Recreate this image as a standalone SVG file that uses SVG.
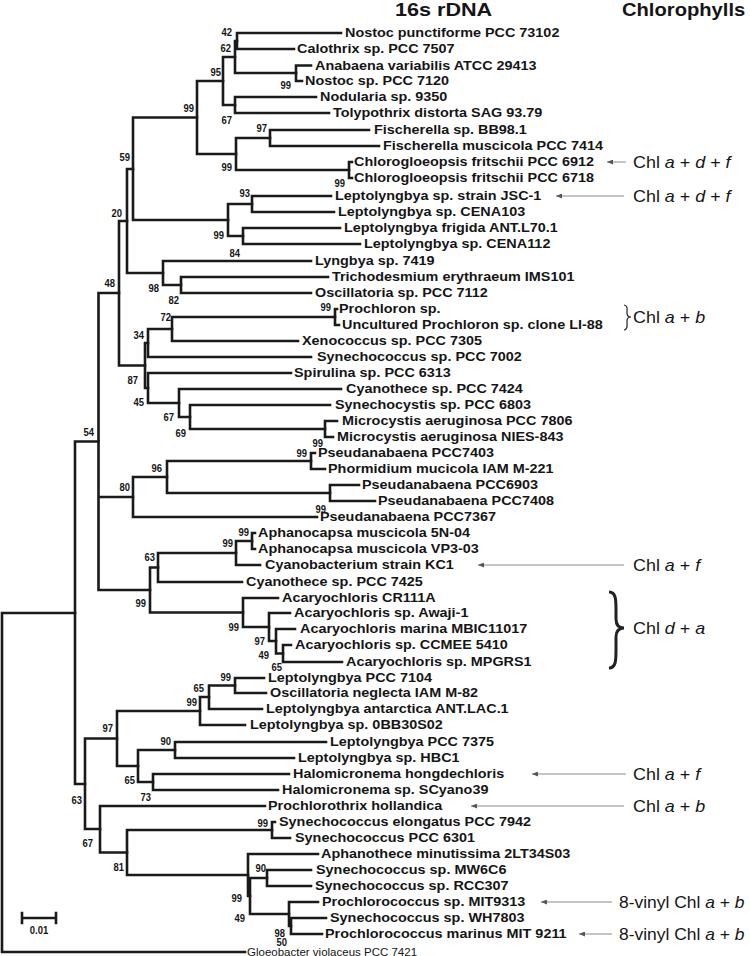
<svg xmlns="http://www.w3.org/2000/svg" width="750" height="956" viewBox="0 0 750 956">
<style>
.lf{font-family:"Liberation Sans",Arial,sans-serif;font-weight:bold;font-size:12px;fill:#151515}
.bs{font-family:"Liberation Sans",Arial,sans-serif;font-weight:bold;font-size:10.5px;fill:#151515;text-anchor:end}
.ch{font-family:"Liberation Sans",Arial,sans-serif;font-size:16px;fill:#151515}
.hd{font-family:"Liberation Sans",Arial,sans-serif;font-weight:bold;font-size:18px;fill:#151515}
.gl{font-family:"Liberation Sans",Arial,sans-serif;font-size:11.5px;fill:#151515}
.br{fill:none;stroke:#1a1a1a;stroke-width:2.6;stroke-linecap:square}
.ar{stroke:#8a8a8a;stroke-width:1;marker-end:url(#ah)}
.cb{fill:none;stroke:#222}
</style>
<defs>
<marker id="ah" viewBox="0 0 6 5" refX="6" refY="2.5" markerWidth="6" markerHeight="5" orient="auto" markerUnits="userSpaceOnUse"><path d="M0,0L6,2.5L0,5z" fill="#555"/></marker>
</defs>
<rect width="750" height="956" fill="#fff"/>
<g id="headers">
<text class="hd" transform="matrix(1.2 0 0 1 395 16)">16s rDNA</text>
<text class="hd" transform="matrix(1.12 0 0 1 622 16)">Chlorophylls</text>
</g>
<g id="connectors">
<path class="br" stroke-width="2.2" d="M2,613V952M2,613H75M2,952H245"/>
<path class="br" d="M75,441.5V784M75,441.5H98.5M75,784H85"/>
<path class="br" d="M98.5,293V590M98.5,293H119M98.5,497H133M98.5,590H150"/>
<path class="br" d="M119,221V365.5M119,221H127M119,365.5H145"/>
<path class="br" d="M127,169V273M127,169H133M127,273H163"/>
<path class="br" d="M133,117.5V220M133,117.5H197M133,220H228"/>
<path class="br" d="M197,81V154M197,81H223M197,154H236"/>
<path class="br" d="M223,57V105M223,57H235M223,105H235"/>
<path class="br" d="M235,41V73M235,41H237M235,73H296"/>
<path class="br" d="M237,33V49M237,33H341M237,49H294"/>
<path class="br" d="M296,65.5V81M296,65.5H311M296,81H302"/>
<path class="br" d="M235,97V113M235,97H316M235,113H329"/>
<path class="br" d="M236,138V170M236,138H270M236,170H349"/>
<path class="br" d="M270,130V146M270,130H369M270,146H379"/>
<path class="br" d="M349,162V178M349,162H352M349,178H352"/>
<path class="br" d="M228,204V236M228,204H252M228,236H243"/>
<path class="br" d="M252,196V212M252,196H331M252,212H334"/>
<path class="br" d="M243,228V244M243,228H340M243,244H360"/>
<path class="br" d="M163,261V285M163,261H311M163,285H181"/>
<path class="br" d="M181,277V293M181,277H328M181,293H311"/>
<path class="br" d="M145,343V388M145,343H148M145,388H148"/>
<path class="br" d="M148,329V357M148,329H172M148,357H311"/>
<path class="br" d="M172,317V341M172,317H335M172,341H298"/>
<path class="br" d="M335,309V325M335,309H337M335,325H339"/>
<path class="br" d="M148,373V403M148,373H291M148,403H179"/>
<path class="br" d="M179,389V417M179,389H341M179,417H190"/>
<path class="br" d="M190,405V429M190,405H330M190,429H325"/>
<path class="br" d="M325,421V437M325,421H337M325,437H333"/>
<path class="br" d="M133,477V517M133,477H167M133,517H317"/>
<path class="br" d="M167,461V493M167,461H311M167,493H330"/>
<path class="br" d="M311,453V469M311,453H315M311,469H325"/>
<path class="br" d="M330,485V501M330,485H359M330,501H375"/>
<path class="br" d="M150,567.5V612.5M150,567.5H158M150,612.5H243"/>
<path class="br" d="M158,553V582M158,553H236M158,582H242"/>
<path class="br" d="M236,541V565M236,541H252M236,565H260"/>
<path class="br" d="M252,533V549M252,533H255M252,549H255"/>
<path class="br" d="M243,598V627M243,598H278M243,627H269"/>
<path class="br" d="M269,613V641M269,613H290M269,641H276"/>
<path class="br" d="M276,629V653.5M276,629H295M276,653.5H283"/>
<path class="br" d="M283,645V662M283,645H291M283,662H342"/>
<path class="br" d="M85,738.5V829M85,738.5H117M85,829H100"/>
<path class="br" d="M117,711V766M117,711H200M117,766H138"/>
<path class="br" d="M200,697V725M200,697H209M200,725H245"/>
<path class="br" d="M209,685.5V709M209,685.5H235M209,709H262"/>
<path class="br" d="M235,678V693M235,678H264M235,693H266"/>
<path class="br" d="M138,750V782M138,750H175M138,782H153"/>
<path class="br" d="M175,742V758M175,742H326M175,758H294"/>
<path class="br" d="M153,774V790M153,774H289M153,790H278"/>
<path class="br" d="M100,806V852.5M100,806H265M100,852.5H127"/>
<path class="br" d="M127,830V875M127,830H272M127,875H248"/>
<path class="br" d="M272,822V838M272,822H275M272,838H290"/>
<path class="br" d="M248,854V896M248,854H318M248,896H250"/>
<path class="br" d="M250,878V914M250,878H267M250,914H289"/>
<path class="br" d="M267,870V886M267,870H311M267,886H311"/>
<path class="br" d="M289,902V926M289,902H318M289,926H291"/>
<path class="br" d="M291,918V934M291,918H326M291,934H322"/>
<line class="ar" x1="626" y1="162" x2="607" y2="162"/>
<line class="ar" x1="624" y1="196" x2="556" y2="196"/>
<line class="ar" x1="624" y1="565" x2="478" y2="565"/>
<line class="ar" x1="626" y1="774" x2="532" y2="774"/>
<line class="ar" x1="624" y1="806" x2="471" y2="806"/>
<line class="ar" x1="612" y1="902" x2="541" y2="902"/>
<line class="ar" x1="612" y1="934" x2="579" y2="934"/>
<path class="cb" stroke-width="1.2" d="M624,305C628,305 627,310 627,313C627,316 629,317 631,317C629,317 627,318 627,321C627,324 628,330 624,330"/>
<path class="cb" stroke-width="3" d="M609,592C616,592 616,600 616,610L616,619C616,625 619,628 624,628C619,628 616,631 616,637L616,650C616,660 616,668 609,668"/>
</g>
<g id="leaves">
<g id="leaf00"><text class="lf" transform="matrix(1.2 0 0 1 345 37.3)">Nostoc punctiforme PCC 73102</text></g>
<g id="leaf01"><text class="lf" transform="matrix(1.2 0 0 1 297 53.3)">Calothrix sp. PCC 7507</text></g>
<g id="leaf02"><text class="lf" transform="matrix(1.2 0 0 1 315 69.8)">Anabaena variabilis ATCC 29413</text></g>
<g id="leaf03"><text class="lf" transform="matrix(1.2 0 0 1 305 85.3)">Nostoc sp. PCC 7120</text></g>
<g id="leaf04"><text class="lf" transform="matrix(1.2 0 0 1 320 101.3)">Nodularia sp. 9350</text></g>
<g id="leaf05"><text class="lf" transform="matrix(1.2 0 0 1 333 117.3)">Tolypothrix distorta SAG 93.79</text></g>
<g id="leaf06"><text class="lf" transform="matrix(1.2 0 0 1 374 134.3)">Fischerella sp. BB98.1</text></g>
<g id="leaf07"><text class="lf" transform="matrix(1.2 0 0 1 383 150.3)">Fischerella muscicola PCC 7414</text></g>
<g id="leaf08"><text class="lf" transform="matrix(1.2 0 0 1 354 166.3)">Chlorogloeopsis fritschii PCC 6912</text></g>
<g id="leaf09"><text class="lf" transform="matrix(1.2 0 0 1 354 182.3)">Chlorogloeopsis fritschii PCC 6718</text></g>
<g id="leaf10"><text class="lf" transform="matrix(1.2 0 0 1 335 200.3)">Leptolyngbya sp. strain JSC-1</text></g>
<g id="leaf11"><text class="lf" transform="matrix(1.2 0 0 1 338 216.3)">Leptolyngbya sp. CENA103</text></g>
<g id="leaf12"><text class="lf" transform="matrix(1.2 0 0 1 344 232.3)">Leptolyngbya frigida ANT.L70.1</text></g>
<g id="leaf13"><text class="lf" transform="matrix(1.2 0 0 1 364 248.3)">Leptolyngbya sp. CENA112</text></g>
<g id="leaf14"><text class="lf" transform="matrix(1.2 0 0 1 315 265.3)">Lyngbya sp. 7419</text></g>
<g id="leaf15"><text class="lf" transform="matrix(1.2 0 0 1 332 281.3)">Trichodesmium erythraeum IMS101</text></g>
<g id="leaf16"><text class="lf" transform="matrix(1.2 0 0 1 315 297.3)">Oscillatoria sp. PCC 7112</text></g>
<g id="leaf17"><text class="lf" transform="matrix(1.2 0 0 1 339 313.3)">Prochloron sp.</text></g>
<g id="leaf18"><text class="lf" transform="matrix(1.2 0 0 1 342 329.3)">Uncultured Prochloron sp. clone LI-88</text></g>
<g id="leaf19"><text class="lf" transform="matrix(1.2 0 0 1 302 345.3)">Xenococcus sp. PCC 7305</text></g>
<g id="leaf20"><text class="lf" transform="matrix(1.2 0 0 1 317 361.3)">Synechococcus sp. PCC 7002</text></g>
<g id="leaf21"><text class="lf" transform="matrix(1.2 0 0 1 294 377.3)">Spirulina sp. PCC 6313</text></g>
<g id="leaf22"><text class="lf" transform="matrix(1.2 0 0 1 346 393.3)">Cyanothece sp. PCC 7424</text></g>
<g id="leaf23"><text class="lf" transform="matrix(1.2 0 0 1 335 409.3)">Synechocystis sp. PCC 6803</text></g>
<g id="leaf24"><text class="lf" transform="matrix(1.2 0 0 1 342 425.3)">Microcystis aeruginosa PCC 7806</text></g>
<g id="leaf25"><text class="lf" transform="matrix(1.2 0 0 1 337 441.3)">Microcystis aeruginosa NIES-843</text></g>
<g id="leaf26"><text class="lf" transform="matrix(1.2 0 0 1 318 457.3)">Pseudanabaena PCC7403</text></g>
<g id="leaf27"><text class="lf" transform="matrix(1.2 0 0 1 328 473.3)">Phormidium mucicola IAM M-221</text></g>
<g id="leaf28"><text class="lf" transform="matrix(1.2 0 0 1 362 489.3)">Pseudanabaena PCC6903</text></g>
<g id="leaf29"><text class="lf" transform="matrix(1.2 0 0 1 378 505.3)">Pseudanabaena PCC7408</text></g>
<g id="leaf30"><text class="lf" transform="matrix(1.2 0 0 1 320 521.3)">Pseudanabaena PCC7367</text></g>
<g id="leaf31"><text class="lf" transform="matrix(1.2 0 0 1 258 537.3)">Aphanocapsa muscicola 5N-04</text></g>
<g id="leaf32"><text class="lf" transform="matrix(1.2 0 0 1 258 553.3)">Aphanocapsa muscicola VP3-03</text></g>
<g id="leaf33"><text class="lf" transform="matrix(1.2 0 0 1 265 569.3)">Cyanobacterium strain KC1</text></g>
<g id="leaf34"><text class="lf" transform="matrix(1.2 0 0 1 246 586.3)">Cyanothece sp. PCC 7425</text></g>
<g id="leaf35"><text class="lf" transform="matrix(1.2 0 0 1 282 602.3)">Acaryochloris CR111A</text></g>
<g id="leaf36"><text class="lf" transform="matrix(1.2 0 0 1 294 617.3)">Acaryochloris sp. Awaji-1</text></g>
<g id="leaf37"><text class="lf" transform="matrix(1.2 0 0 1 300 633.3)">Acaryochloris marina MBIC11017</text></g>
<g id="leaf38"><text class="lf" transform="matrix(1.2 0 0 1 295 649.3)">Acaryochloris sp. CCMEE 5410</text></g>
<g id="leaf39"><text class="lf" transform="matrix(1.2 0 0 1 346 666.3)">Acaryochloris sp. MPGRS1</text></g>
<g id="leaf40"><text class="lf" transform="matrix(1.2 0 0 1 268 682.3)">Leptolyngbya PCC 7104</text></g>
<g id="leaf41"><text class="lf" transform="matrix(1.2 0 0 1 270 697.3)">Oscillatoria neglecta IAM M-82</text></g>
<g id="leaf42"><text class="lf" transform="matrix(1.2 0 0 1 266 713.3)">Leptolyngbya antarctica ANT.LAC.1</text></g>
<g id="leaf43"><text class="lf" transform="matrix(1.2 0 0 1 250 729.3)">Leptolyngbya sp. 0BB30S02</text></g>
<g id="leaf44"><text class="lf" transform="matrix(1.2 0 0 1 330 746.3)">Leptolyngbya PCC 7375</text></g>
<g id="leaf45"><text class="lf" transform="matrix(1.2 0 0 1 298 762.3)">Leptolyngbya sp. HBC1</text></g>
<g id="leaf46"><text class="lf" transform="matrix(1.2 0 0 1 293 778.3)">Halomicronema hongdechloris</text></g>
<g id="leaf47"><text class="lf" transform="matrix(1.2 0 0 1 282 794.3)">Halomicronema sp. SCyano39</text></g>
<g id="leaf48"><text class="lf" transform="matrix(1.2 0 0 1 268 810.3)">Prochlorothrix hollandica</text></g>
<g id="leaf49"><text class="lf" transform="matrix(1.2 0 0 1 279 826.3)">Synechococcus elongatus PCC 7942</text></g>
<g id="leaf50"><text class="lf" transform="matrix(1.2 0 0 1 295 842.3)">Synechococcus PCC 6301</text></g>
<g id="leaf51"><text class="lf" transform="matrix(1.2 0 0 1 321 858.3)">Aphanothece minutissima 2LT34S03</text></g>
<g id="leaf52"><text class="lf" transform="matrix(1.2 0 0 1 316 874.3)">Synechococcus sp. MW6C6</text></g>
<g id="leaf53"><text class="lf" transform="matrix(1.2 0 0 1 315 890.3)">Synechococcus sp. RCC307</text></g>
<g id="leaf54"><text class="lf" transform="matrix(1.2 0 0 1 322 906.3)">Prochlorococcus sp. MIT9313</text></g>
<g id="leaf55"><text class="lf" transform="matrix(1.2 0 0 1 330 922.3)">Synechococcus sp. WH7803</text></g>
<g id="leaf56"><text class="lf" transform="matrix(1.2 0 0 1 325 938.3)">Prochlorococcus marinus MIT 9211</text></g>
<g id="leaf57"><text class="gl" x="247" y="955.5">Gloeobacter violaceus PCC 7421</text></g>
</g>
<g id="bootstrap">
<text class="bs" transform="matrix(0.9 0 0 1 232 36)">42</text>
<text class="bs" transform="matrix(0.9 0 0 1 231 52)">62</text>
<text class="bs" transform="matrix(0.9 0 0 1 221 76)">95</text>
<text class="bs" transform="matrix(0.9 0 0 1 291 89)">99</text>
<text class="bs" transform="matrix(0.9 0 0 1 194 112)">99</text>
<text class="bs" transform="matrix(0.9 0 0 1 232 124)">67</text>
<text class="bs" transform="matrix(0.9 0 0 1 267 132)">97</text>
<text class="bs" transform="matrix(0.9 0 0 1 130 161)">59</text>
<text class="bs" transform="matrix(0.9 0 0 1 232 171)">99</text>
<text class="bs" transform="matrix(0.9 0 0 1 345 187)">99</text>
<text class="bs" transform="matrix(0.9 0 0 1 250 197)">93</text>
<text class="bs" transform="matrix(0.9 0 0 1 122 217)">20</text>
<text class="bs" transform="matrix(0.9 0 0 1 224 239)">99</text>
<text class="bs" transform="matrix(0.9 0 0 1 240 257)">84</text>
<text class="bs" transform="matrix(0.9 0 0 1 115 287)">48</text>
<text class="bs" transform="matrix(0.9 0 0 1 159 292)">98</text>
<text class="bs" transform="matrix(0.9 0 0 1 179 304)">82</text>
<text class="bs" transform="matrix(0.9 0 0 1 331 311)">99</text>
<text class="bs" transform="matrix(0.9 0 0 1 171 321)">72</text>
<text class="bs" transform="matrix(0.9 0 0 1 144 339)">34</text>
<text class="bs" transform="matrix(0.9 0 0 1 138 384)">87</text>
<text class="bs" transform="matrix(0.9 0 0 1 144 406)">45</text>
<text class="bs" transform="matrix(0.9 0 0 1 174 421)">67</text>
<text class="bs" transform="matrix(0.9 0 0 1 94 436)">54</text>
<text class="bs" transform="matrix(0.9 0 0 1 186 437)">69</text>
<text class="bs" transform="matrix(0.9 0 0 1 323 447)">99</text>
<text class="bs" transform="matrix(0.9 0 0 1 307 457)">99</text>
<text class="bs" transform="matrix(0.9 0 0 1 162 472)">96</text>
<text class="bs" transform="matrix(0.9 0 0 1 130 491)">80</text>
<text class="bs" transform="matrix(0.9 0 0 1 326 513)">99</text>
<text class="bs" transform="matrix(0.9 0 0 1 249 536)">99</text>
<text class="bs" transform="matrix(0.9 0 0 1 233 547)">99</text>
<text class="bs" transform="matrix(0.9 0 0 1 155 561)">63</text>
<text class="bs" transform="matrix(0.9 0 0 1 146 607)">99</text>
<text class="bs" transform="matrix(0.9 0 0 1 239 631)">99</text>
<text class="bs" transform="matrix(0.9 0 0 1 265 645)">97</text>
<text class="bs" transform="matrix(0.9 0 0 1 269 659)">49</text>
<text class="bs" transform="matrix(0.9 0 0 1 282 671)">65</text>
<text class="bs" transform="matrix(0.9 0 0 1 231 681)">99</text>
<text class="bs" transform="matrix(0.9 0 0 1 204 692)">65</text>
<text class="bs" transform="matrix(0.9 0 0 1 197 706)">99</text>
<text class="bs" transform="matrix(0.9 0 0 1 113 732)">97</text>
<text class="bs" transform="matrix(0.9 0 0 1 171 745)">90</text>
<text class="bs" transform="matrix(0.9 0 0 1 135 784)">65</text>
<text class="bs" transform="matrix(0.9 0 0 1 151 801)">73</text>
<text class="bs" transform="matrix(0.9 0 0 1 82 804)">63</text>
<text class="bs" transform="matrix(0.9 0 0 1 268 827)">99</text>
<text class="bs" transform="matrix(0.9 0 0 1 93 847)">67</text>
<text class="bs" transform="matrix(0.9 0 0 1 124 871)">81</text>
<text class="bs" transform="matrix(0.9 0 0 1 266 872)">90</text>
<text class="bs" transform="matrix(0.9 0 0 1 242 902)">99</text>
<text class="bs" transform="matrix(0.9 0 0 1 245 922)">49</text>
<text class="bs" transform="matrix(0.9 0 0 1 285 937)">98</text>
<text class="bs" transform="matrix(0.9 0 0 1 287 946)">50</text>
</g>
<g id="chlorophylls">
<text class="ch" transform="matrix(1.12 0 0 1 633 167.7)">Chl <tspan font-style="italic">a</tspan> + <tspan font-style="italic">d</tspan> + <tspan font-style="italic">f</tspan></text>
<text class="ch" transform="matrix(1.12 0 0 1 633 201.7)">Chl <tspan font-style="italic">a</tspan> + <tspan font-style="italic">d</tspan> + <tspan font-style="italic">f</tspan></text>
<text class="ch" transform="matrix(1.12 0 0 1 633 322.7)">Chl <tspan font-style="italic">a</tspan> + <tspan font-style="italic">b</tspan></text>
<text class="ch" transform="matrix(1.12 0 0 1 633 570.7)">Chl <tspan font-style="italic">a</tspan> + <tspan font-style="italic">f</tspan></text>
<text class="ch" transform="matrix(1.12 0 0 1 633 633.7)">Chl <tspan font-style="italic">d</tspan> + <tspan font-style="italic">a</tspan></text>
<text class="ch" transform="matrix(1.12 0 0 1 633 779.7)">Chl <tspan font-style="italic">a</tspan> + <tspan font-style="italic">f</tspan></text>
<text class="ch" transform="matrix(1.12 0 0 1 633 811.7)">Chl <tspan font-style="italic">a</tspan> + <tspan font-style="italic">b</tspan></text>
<text class="ch" transform="matrix(1.09 0 0 1 619 907.7)">8-vinyl Chl <tspan font-style="italic">a</tspan> + <tspan font-style="italic">b</tspan></text>
<text class="ch" transform="matrix(1.09 0 0 1 619 939.7)">8-vinyl Chl <tspan font-style="italic">a</tspan> + <tspan font-style="italic">b</tspan></text>
</g>
<g id="scalebar">
<path class="br" stroke-width="2" d="M22,918H56M22,913V923M56,913V923"/>
<text class="bs" style="text-anchor:middle" transform="matrix(0.9 0 0 1 39 934)">0.01</text>
</g>
</svg>
